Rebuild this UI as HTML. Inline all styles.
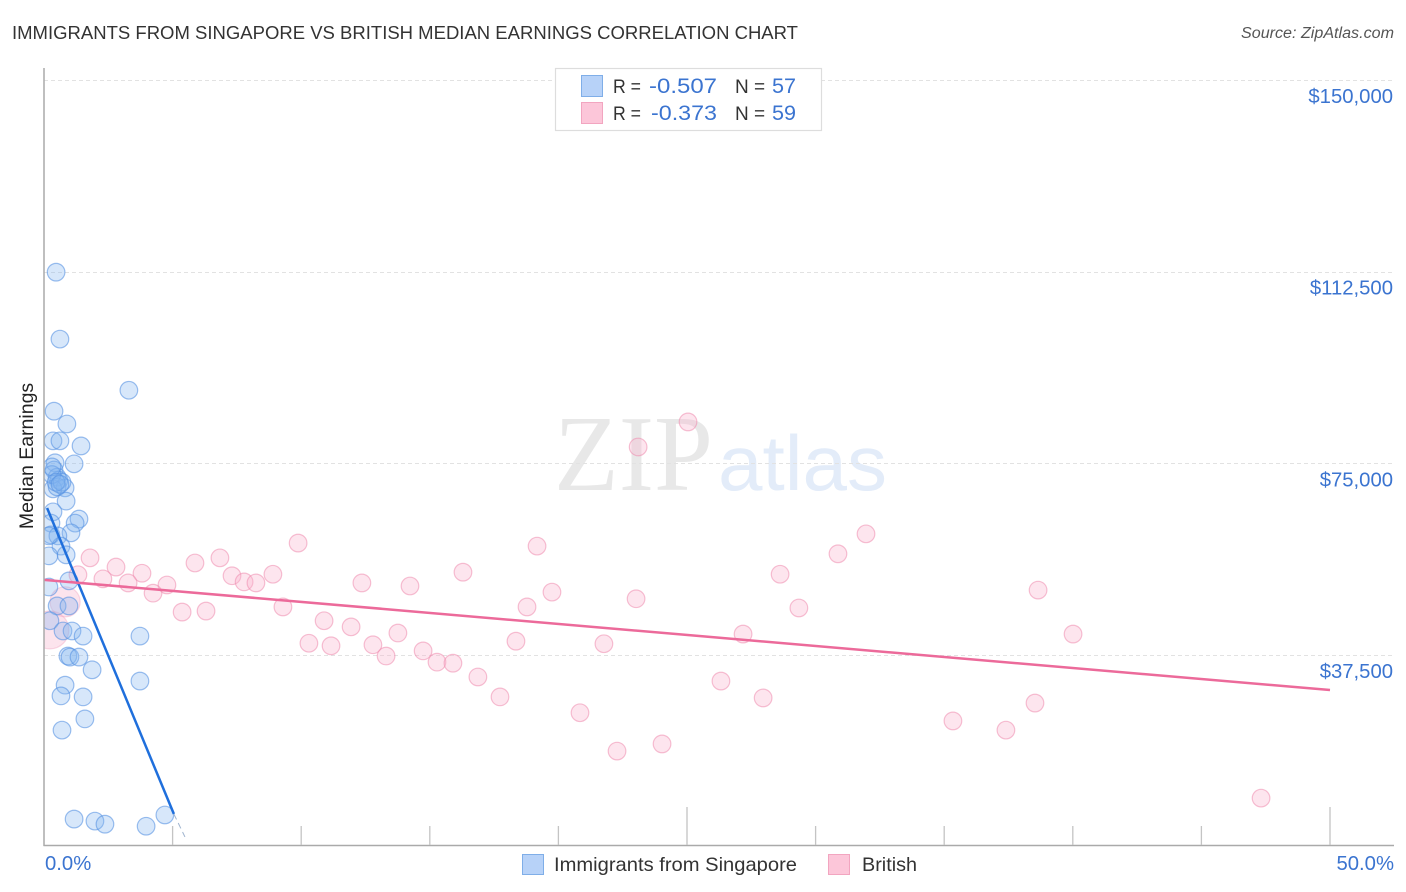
<!DOCTYPE html>
<html lang="en">
<head>
<meta charset="utf-8">
<title>Immigrants from Singapore vs British Median Earnings Correlation Chart</title>
<style>
html,body{margin:0;padding:0;background:#fff;}
svg{display:block;}
text{font-family:"Liberation Sans",sans-serif;}
</style>
</head>
<body>
<svg id="chart" xmlns="http://www.w3.org/2000/svg" width="1406" height="892" viewBox="0 0 1406 892">
  <defs>
    <clipPath id="plot-clip"><rect x="44" y="68" width="1350" height="778"/></clipPath>
  </defs>
  <text x="12" y="39" font-size="18.5" fill="#333" textLength="786" lengthAdjust="spacingAndGlyphs">IMMIGRANTS FROM SINGAPORE VS BRITISH MEDIAN EARNINGS CORRELATION CHART</text>
  <text x="1241" y="38" font-size="15.5" font-style="italic" fill="#555" textLength="153" lengthAdjust="spacingAndGlyphs">Source: ZipAtlas.com</text>
  <text x="554" y="490" font-size="108" fill="#e8e8e8" style="font-family:'Liberation Serif',serif" textLength="159" lengthAdjust="spacingAndGlyphs">ZIP</text>
  <text x="718" y="490" font-size="78" fill="#e3ecf9" textLength="169" lengthAdjust="spacingAndGlyphs">atlas</text>
  <g id="grid"></g>
  <g id="points" clip-path="url(#plot-clip)"></g>
  <g id="trends"></g>
  <g id="axes"></g>
  <text transform="translate(33,456) rotate(-90)" font-size="19.5" fill="#222" text-anchor="middle">Median Earnings</text>

  <g>
    <rect x="555.5" y="68.5" width="266" height="62" fill="#fff" stroke="#ddd" stroke-width="1.2"/>
    <rect x="581.5" y="75.5" width="21" height="21" fill="#b7d2f8" stroke="#7faee8"/>
    <rect x="581.5" y="102.5" width="21" height="21" fill="#fcc6d9" stroke="#f2a5c0"/>
    <text x="613" y="93" font-size="19" fill="#333" textLength="28" lengthAdjust="spacingAndGlyphs">R =</text>
    <text x="649" y="93" font-size="21" fill="#3b74d0" textLength="68" lengthAdjust="spacingAndGlyphs">-0.507</text>
    <text x="735" y="93" font-size="19" fill="#333">N =</text>
    <text x="772" y="93" font-size="21" fill="#3b74d0" textLength="24" lengthAdjust="spacingAndGlyphs">57</text>
    <text x="613" y="120" font-size="19" fill="#333" textLength="28" lengthAdjust="spacingAndGlyphs">R =</text>
    <text x="651" y="120" font-size="21" fill="#3b74d0" textLength="66" lengthAdjust="spacingAndGlyphs">-0.373</text>
    <text x="735" y="120" font-size="19" fill="#333">N =</text>
    <text x="772" y="120" font-size="21" fill="#3b74d0" textLength="24" lengthAdjust="spacingAndGlyphs">59</text>
  </g>

  <g>
    <rect x="522.5" y="854.5" width="21" height="20" fill="#b7d2f8" stroke="#7faee8"/>
    <text x="554" y="871" font-size="19.5" fill="#333" textLength="243" lengthAdjust="spacingAndGlyphs">Immigrants from Singapore</text>
    <rect x="828.5" y="854.5" width="21" height="20" fill="#fcc6d9" stroke="#f2a5c0"/>
    <text x="862" y="871" font-size="19.5" fill="#333" textLength="55" lengthAdjust="spacingAndGlyphs">British</text>
  </g>
</svg>

<script>
var singaporeX = [0.47,0.62,3.30,0.39,0.89,0.35,0.62,1.44,1.17,0.43,0.39,0.51,0.58,0.82,0.35,0.51,0.86,0.35,1.36,1.21,0.27,1.05,0.27,0.54,0.66,0.86,0.19,0.97,0.19,0.51,0.97,0.23,0.74,1.09,1.52,3.73,0.93,1.01,1.36,1.87,0.82,3.73,0.66,1.52,1.59,0.70,1.17,1.98,2.37,3.97,4.70,0.31,0.70,0.31,0.47,0.62,0.19];
var singaporeY = [112400,99300,89300,85200,82700,79400,79400,78400,74900,75100,73700,72300,71700,70200,70000,70400,67600,65500,64100,63300,63300,61400,61000,60800,58800,57100,56900,52000,50800,47100,47100,44200,42200,42200,41200,41200,37300,37100,37100,34600,31600,32400,29500,29300,25000,22800,5400,5000,4400,4000,6200,72800,71300,74300,71300,70900,60800];
var britishX = [25.04,23.10,31.96,9.88,19.17,30.87,1.79,2.80,3.81,6.84,5.87,1.32,2.29,3.27,4.78,4.24,7.31,7.78,8.24,8.90,12.36,14.23,16.29,19.75,28.62,38.65,18.78,23.02,29.35,9.29,5.37,6.30,10.89,11.94,13.76,27.18,40.01,10.30,11.16,12.79,13.30,14.74,15.28,15.90,18.35,21.77,16.87,17.73,26.32,27.96,20.84,22.28,24.03,35.34,37.40,38.53,47.32];
var britishY = [83100,78200,61200,59400,58800,57300,56500,54700,53500,56500,55500,53200,52400,51600,51200,49600,53000,51800,51600,53300,51600,51000,53700,49800,53300,50200,46900,48500,46700,46900,45900,46100,44200,43000,41800,41600,41600,39800,39300,39500,37300,38300,36100,35900,40200,39700,33200,29300,32400,29100,26200,18700,20100,24600,22800,28100,9500];
var britishLargeX = [0.82,0.23];
var britishLargeY = [47900,42400];
var britishLargeWeight = [3.5,4.4];
var singaporeTrendX = [0.12,5.05];
var singaporeTrendY = [66260,6390];
var singaporeExtensionX = [5.05,5.48];
var singaporeExtensionY = [6390,1900];
var britishTrendX = [0,50];
var britishTrendY = [52200,30650];
var yTickValues = [37500,75000,112500,150000];
var yTickLabels = ["$37,500","$75,000","$112,500","$150,000"];
var xTickValues = [5,10,15,20,25,30,35,40,45,50];
var xTallTicks = [25,50];
var xEndValues = [0,50];
var xEndLabels = ["0.0%","50.0%"];

var NS = 'http://www.w3.org/2000/svg';
function xScale(v){ return 44 + v * (1330 - 44) / 50; }
function yScale(v){ return 846.67 - v * (846.67 - 655) / 37500; }
function make(tag, attrs, parent){
  var el = document.createElementNS(NS, tag);
  for (var k in attrs) el.setAttribute(k, attrs[k]);
  parent.appendChild(el);
  return el;
}

var grid = document.getElementById('grid');
var axes = document.getElementById('axes');
var pointsGroup = document.getElementById('points');
var trends = document.getElementById('trends');

yTickValues.forEach(function(v, i){
  var gy = Math.round(yScale(v)) + 0.5;
  var line = make('line', {x1:44, x2:1394, y1:gy, y2:gy, stroke:'#e2e2e2', 'stroke-width':1, 'stroke-dasharray':'4 3'}, grid);
  
  
  var label = make('text', {x:1393, y:yScale(v) + 23, 'font-size':20.3, fill:'#3b74d0', 'text-anchor':'end'}, axes);
  
  
  label.textContent = yTickLabels[i];
});

var yAxisLine = make('line', {x1:44, x2:44, y1:68, y2:846, stroke:'#aaa', 'stroke-width':1.5}, axes);


var xAxisLine = make('line', {x1:43.5, x2:1394, y1:845.5, y2:845.5, stroke:'#aaa', 'stroke-width':1.5}, axes);



xTickValues.forEach(function(v){
  var tall = xTallTicks.indexOf(v) >= 0;
  var tick = make('line', {x1:xScale(v), x2:xScale(v), y1:tall ? 807 : 826, y2:845, stroke:'#c4c4c4', 'stroke-width':1.3}, axes);
  
  
});

xEndValues.forEach(function(v, i){
  var label = make('text', {x: i === 0 ? xScale(v) + 1 : 1394, y:870, 'font-size':20.3, fill:'#3b74d0', 'text-anchor': i === 0 ? 'start' : 'end'}, axes);
  
  
  label.textContent = xEndLabels[i];
});

function drawPoint(x, y, r, fill, stroke, name){
  var c = make('circle', {cx:xScale(x), cy:yScale(y), r:r, fill:fill, stroke:stroke, 'stroke-width':1.2}, pointsGroup);
  
  
}

britishLargeX.forEach(function(x, i){
  drawPoint(x, britishLargeY[i], 4.3 * britishLargeWeight[i], 'rgba(248,180,205,0.36)', 'rgba(240,160,190,0.4)', 'british-large-point');
});
britishX.forEach(function(x, i){
  drawPoint(x, britishY[i], 8.8, 'rgba(248,180,205,0.34)', 'rgba(238,140,175,0.55)', 'british-point');
});
singaporeX.forEach(function(x, i){
  drawPoint(x, singaporeY[i], 8.8, 'rgba(130,180,240,0.32)', 'rgba(85,145,225,0.58)', 'singapore-point');
});

var blueLine = make('line', {x1:xScale(singaporeTrendX[0]), y1:yScale(singaporeTrendY[0]), x2:xScale(singaporeTrendX[1]), y2:yScale(singaporeTrendY[1]), stroke:'#1f6fdc', 'stroke-width':2.5}, trends);


var blueExt = make('line', {x1:xScale(singaporeExtensionX[0]), y1:yScale(singaporeExtensionY[0]), x2:xScale(singaporeExtensionX[1]), y2:yScale(singaporeExtensionY[1]), stroke:'#9fb4cf', 'stroke-width':1, 'stroke-dasharray':'6 4'}, trends);


var pinkLine = make('line', {x1:xScale(britishTrendX[0]), y1:yScale(britishTrendY[0]), x2:xScale(britishTrendX[1]), y2:yScale(britishTrendY[1]), stroke:'#ec6a9a', 'stroke-width':2.5}, trends);


</script>
</body>
</html>
